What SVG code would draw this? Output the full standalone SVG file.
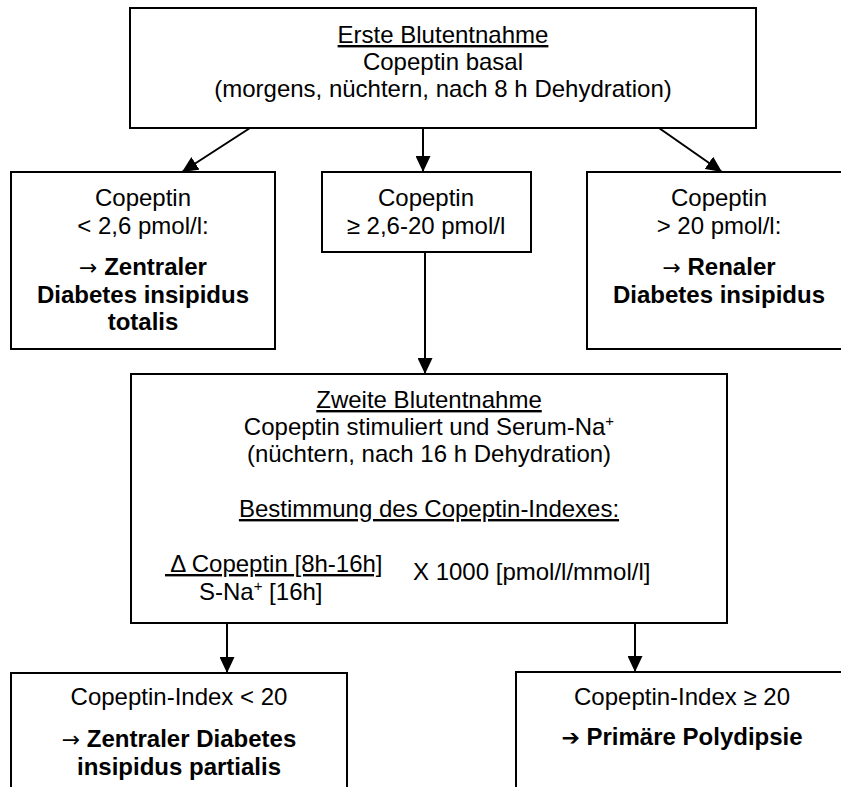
<svg xmlns="http://www.w3.org/2000/svg" width="841" height="787" viewBox="0 0 841 787">
<style>
.box{fill:#fff;stroke:#000;stroke-width:2}
text{font-family:"Liberation Sans",Arial,sans-serif;font-size:24px;fill:#000;text-anchor:middle}
.b{font-weight:bold}
.u{text-decoration:underline}
.st{text-anchor:start}
.ar{font-family:"DejaVu Sans",sans-serif;font-weight:normal;font-size:22px}
.ar2{font-family:"DejaVu Sans",sans-serif;font-weight:bold;font-size:22px}
.c{stroke:#000;stroke-width:2;fill:none;marker-end:url(#ah)}
</style>
<defs>
<marker id="ah" markerUnits="userSpaceOnUse" markerWidth="17" markerHeight="15" refX="16" refY="7.5" orient="auto">
<path d="M0,0 L16,7.5 L0,15 z" fill="#000"/>
</marker>
</defs>
<rect width="841" height="787" fill="#fff"/>
<g id="connectors">
<line class="c" x1="250" y1="128" x2="182" y2="172"/>
<line class="c" x1="423" y1="128" x2="423" y2="172"/>
<line class="c" x1="659" y1="128" x2="722" y2="172"/>
<line class="c" x1="425" y1="252" x2="425" y2="374"/>
<line class="c" x1="227" y1="624" x2="227" y2="673"/>
<line class="c" x1="635" y1="624" x2="635" y2="672"/>
</g>
<g id="n1">
<rect class="box" x="130" y="8" width="626" height="120"/>
<text class="u" x="443" y="43">Erste Blutentnahme</text>
<text x="443" y="70">Copeptin basal</text>
<text x="443" y="97">(morgens, nüchtern, nach 8 h Dehydration)</text>
</g>
<g id="n2">
<rect class="box" x="11" y="172" width="264" height="177"/>
<text x="143" y="206">Copeptin</text>
<text x="143" y="234">&lt; 2,6 pmol/l:</text>
<text class="b" x="143" y="275"><tspan class="ar">→</tspan> Zentraler</text>
<text class="b" x="143" y="303">Diabetes insipidus</text>
<text class="b" x="143" y="330">totalis</text>
</g>
<g id="n3">
<rect class="box" x="322" y="172" width="209" height="80"/>
<text x="426" y="206">Copeptin</text>
<text x="426" y="234">≥ 2,6-20 pmol/l</text>
</g>
<g id="n4">
<rect class="box" x="587" y="172" width="264" height="177"/>
<text x="719" y="206">Copeptin</text>
<text x="719" y="234">&gt; 20 pmol/l:</text>
<text class="b" x="719" y="275"><tspan class="ar">→</tspan> Renaler</text>
<text class="b" x="719" y="303">Diabetes insipidus</text>
</g>
<g id="n5">
<rect class="box" x="131" y="374" width="596" height="249"/>
<text class="u" x="429" y="408">Zweite Blutentnahme</text>
<text x="429" y="435">Copeptin stimuliert und Serum-Na<tspan font-size="15" dy="-9">+</tspan></text>
<text x="429" y="462">(nüchtern, nach 16 h Dehydration)</text>
<text class="u" x="429" y="517">Bestimmung des Copeptin-Indexes:</text>
<text class="u st" x="165" y="572" xml:space="preserve"> Δ Copeptin [8h-16h]</text>
<text class="st" x="199" y="600">S-Na<tspan font-size="15" dy="-9">+</tspan><tspan dy="9"> [16h]</tspan></text>
<text class="st" x="413" y="580">X 1000 [pmol/l/mmol/l]</text>
</g>
<g id="n6">
<rect class="box" x="11" y="673" width="336" height="130"/>
<text x="179" y="705">Copeptin-Index &lt; 20</text>
<text class="b" x="179" y="747"><tspan class="ar">→</tspan> Zentraler Diabetes</text>
<text class="b" x="179" y="775">insipidus partialis</text>
</g>
<g id="n7">
<rect class="box" x="516" y="672" width="333" height="130"/>
<text x="682" y="705">Copeptin-Index ≥ 20</text>
<text class="b" x="682" y="745"><tspan class="ar2">➔</tspan> Primäre Polydipsie</text>
</g>
</svg>
